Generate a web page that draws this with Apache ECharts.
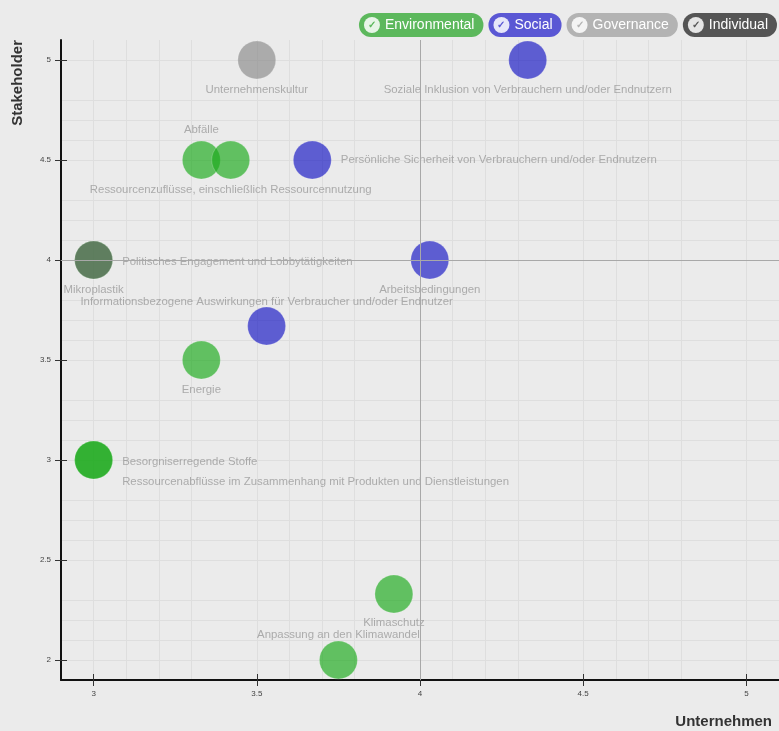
<!DOCTYPE html>
<html>
<head>
<meta charset="utf-8">
<script src="https://cdn.jsdelivr.net/npm/echarts@6/dist/echarts.min.js"></script>
<style>
html,body{margin:0;padding:0;background:#ebebeb;}
#chart{width:779px;height:731px;}
</style>
</head>
<body>
<div id="chart"></div>
<script>
// ---- data ----
const categories = ['Environmental', 'Social', 'Governance', 'Individual'];
const topicNames = [
  'Unternehmenskultur',
  'Soziale Inklusion von Verbrauchern und/oder Endnutzern',
  'Abfälle',
  'Ressourcenzuflüsse, einschließlich Ressourcennutzung',
  'Persönliche Sicherheit von Verbrauchern und/oder Endnutzern',
  'Mikroplastik',
  'Politisches Engagement und Lobbytätigkeiten',
  'Arbeitsbedingungen',
  'Informationsbezogene Auswirkungen für Verbraucher und/oder Endnutzer',
  'Energie',
  'Besorgniserregende Stoffe',
  'Ressourcenabflüsse im Zusammenhang mit Produkten und Dienstleistungen',
  'Klimaschutz',
  'Anpassung an den Klimawandel'
];
const unternehmenValues = [3.5, 4.33, 3.33, 3.42, 3.67, 3, 3, 4.03, 3.53, 3.33, 3, 3, 3.92, 3.75];
const stakeholderValues = [5, 5, 4.5, 4.5, 4.5, 4, 4, 4, 3.67, 3.5, 3, 3, 2.33, 2];
const topicCategories = ['Governance', 'Social', 'Environmental', 'Environmental', 'Social', 'Environmental',
  'Individual', 'Social', 'Social', 'Environmental', 'Environmental', 'Environmental', 'Environmental', 'Environmental'];
const xTickValues = [3, 3.5, 4, 4.5, 5];
const yTickValues = [2, 2.5, 3, 3.5, 4, 4.5, 5];

// ---- styles ----
const catColors = {
  Environmental: '#1caa1c',
  Social: '#1616c4',
  Governance: '#8a8a8a',
  Individual: '#5e5e5e'
};
const legendColors = {
  Environmental: '#5cb85c',
  Social: '#5a57d4',
  Governance: '#b3b3b3',
  Individual: '#555555'
};
const labelPlacement = {
  'Unternehmenskultur': {position: 'bottom'},
  'Soziale Inklusion von Verbrauchern und/oder Endnutzern': {position: 'bottom'},
  'Abfälle': {position: 'top'},
  'Ressourcenzuflüsse, einschließlich Ressourcennutzung': {position: 'bottom'},
  'Persönliche Sicherheit von Verbrauchern und/oder Endnutzern': {position: 'right', distance: 9},
  'Mikroplastik': {position: 'bottom'},
  'Politisches Engagement und Lobbytätigkeiten': {position: 'right', distance: 9, offset: [0, 2]},
  'Arbeitsbedingungen': {position: 'bottom'},
  'Informationsbezogene Auswirkungen für Verbraucher und/oder Endnutzer': {position: 'top', offset: [0, 6]},
  'Energie': {position: 'bottom'},
  'Besorgniserregende Stoffe': {position: 'right', distance: 9, offset: [0, 2]},
  'Ressourcenabflüsse im Zusammenhang mit Produkten und Dienstleistungen': {position: 'right', distance: 9, offset: [0, 22]},
  'Klimaschutz': {position: 'bottom', offset: [0, -1]},
  'Anpassung an den Klimawandel': {position: 'top', offset: [0, 5]}
};

const series = categories.map(cat => ({
  name: cat,
  type: 'scatter',
  symbolSize: 38,
  itemStyle: {
    color: catColors[cat],
    opacity: 0.67,
    borderColor: 'rgba(255,255,255,0.3)',
    borderWidth: 1
  },
  label: {
    show: true,
    formatter: p => p.data.name,
    color: '#8a8a8a',
    fontSize: 11.4,
    fontFamily: 'Liberation Sans, Arial, sans-serif'
  },
  data: topicNames.map((n, i) => ({n, i}))
    .filter(o => topicCategories[o.i] === cat)
    .map(o => ({
      name: o.n,
      value: [unternehmenValues[o.i], stakeholderValues[o.i]],
      label: Object.assign({distance: 5}, labelPlacement[o.n])
    })),
  markLine: cat === 'Environmental' ? {
    silent: true,
    symbol: 'none',
    label: {show: false},
    lineStyle: {color: '#a8a8a8', width: 1, type: 'solid'},
    data: [{xAxis: 4}, {yAxis: 4}]
  } : undefined,
  z: 3
}));

const gridLines = {
  splitLine: {show: true, lineStyle: {color: '#d2d2d2', width: 1}},
  minorTick: {show: false, splitNumber: 5},
  minorSplitLine: {show: true, lineStyle: {color: '#dedede', width: 1}}
};

const chart = echarts.init(document.getElementById('chart'));
chart.setOption({
  backgroundColor: '#ebebeb',
  animation: false,
  textStyle: {fontFamily: 'Liberation Sans, Arial, sans-serif'},
  legend: {
    right: 2,
    top: 13,
    padding: 0,
    itemGap: 0,
    icon: 'none',
    itemWidth: 0,
    itemHeight: 0,
    formatter: name => '{ck|✓}{t|' + name + '}',
    data: categories.map(cat => ({
      name: cat,
      textStyle: {
        backgroundColor: legendColors[cat],
        borderRadius: 12,
        padding: [4, 9, 4, 5],
        color: '#fff',
        fontSize: 14,
        rich: {
          ck: {
            backgroundColor: 'rgba(255,255,255,0.85)',
            color: legendColors[cat],
            width: 16, height: 16, lineHeight: 16,
            borderRadius: 8,
            align: 'center',
            fontSize: 10,
            fontWeight: 'bold'
          },
          t: {color: '#fff', fontSize: 14, lineHeight: 16, padding: [0, 0, 0, 5]}
        }
      }
    })),
    inactiveColor: '#ccc'
  },
  grid: {left: 61, right: -3, top: 40, bottom: 51, containLabel: false},
  xAxis: [{
    type: 'value',
    min: 2.9, max: 5.1,
    interval: 0.5,
    name: 'Unternehmen',
    nameLocation: 'end',
    nameGap: 0,
    nameTextStyle: {
      fontSize: 15, fontWeight: 'bold', color: '#333',
      align: 'right', verticalAlign: 'top', padding: [34, 7, 0, 0]
    },
    axisLine: {onZero: false, lineStyle: {color: '#111', width: 2}},
    axisTick: {show: true, length: 6, lineStyle: {color: '#333'},
      customValues: xTickValues},
    axisLabel: {
      fontSize: 8, color: '#444', margin: 10,
      customValues: xTickValues,
      formatter: v => String(+(+v).toFixed(2))
    },
    ...gridLines
  }, {
    type: 'value',
    position: 'bottom',
    min: 2.9, max: 5.1,
    interval: 0.5,
    axisLine: {show: false, onZero: false},
    axisTick: {show: true, inside: true, length: 6, lineStyle: {color: '#333'},
      customValues: xTickValues},
    axisLabel: {show: false},
    splitLine: {show: false}
  }],
  yAxis: [{
    type: 'value',
    min: 1.9, max: 5.1,
    interval: 0.5,
    name: 'Stakeholder',
    nameLocation: 'end',
    nameGap: 0,
    nameRotate: 90,
    nameTextStyle: {
      fontSize: 15, fontWeight: 'bold', color: '#333',
      align: 'right', verticalAlign: 'bottom', padding: [0, 0, 36, 0]
    },
    axisLine: {onZero: false, lineStyle: {color: '#111', width: 2}},
    axisTick: {show: true, length: 6, lineStyle: {color: '#333'},
      customValues: yTickValues},
    axisLabel: {
      fontSize: 8, color: '#444', margin: 10,
      customValues: yTickValues,
      formatter: v => String(+(+v).toFixed(2))
    },
    ...gridLines
  }, {
    type: 'value',
    position: 'left',
    min: 1.9, max: 5.1,
    interval: 0.5,
    axisLine: {show: false, onZero: false},
    axisTick: {show: true, inside: true, length: 6, lineStyle: {color: '#333'},
      customValues: yTickValues},
    axisLabel: {show: false},
    splitLine: {show: false}
  }],
  series: series
});
</script>
</body>
</html>
